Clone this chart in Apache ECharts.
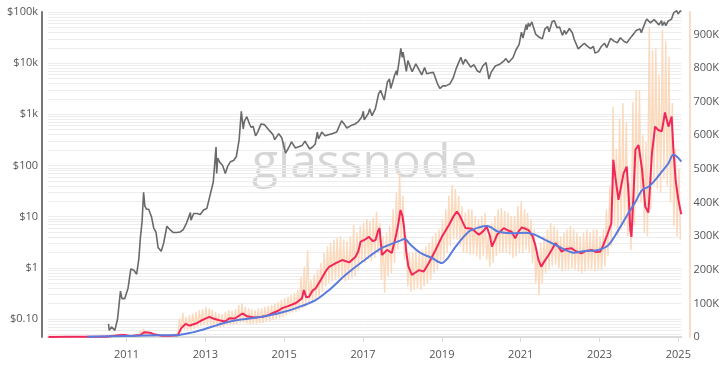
<!DOCTYPE html>
<html>
<head>
<meta charset="utf-8">
<script src="https://cdn.jsdelivr.net/npm/echarts@6/dist/echarts.min.js"></script>
<style>
html,body{margin:0;padding:0;background:#fff;}
#chart{width:722px;height:373px;}
</style>
</head>
<body>
<div id="chart"></div>
<script>
// ---------------- DATA ----------------
// x tick labels (years)
const yearTicks = [2011, 2013, 2015, 2017, 2019, 2021, 2023, 2025];
// left (log) axis tick labels by decade exponent
const leftTickLabels = {'-1': '$0.10', '0': '$1', '1': '$10', '2': '$100', '3': '$1k', '4': '$10k', '5': '$100k'};

// Price (USD), left log axis
const priceDates = ['2010-07-18','2010-07-25','2010-08-15','2010-09-15','2010-10-10','2010-11-06','2010-11-20','2010-12-15',
'2011-01-15','2011-02-10','2011-03-10','2011-04-05','2011-04-25','2011-05-10','2011-05-25','2011-06-08','2011-06-20','2011-07-05','2011-07-25','2011-08-20','2011-09-10','2011-10-01','2011-10-20','2011-11-18','2011-12-10',
'2012-01-10','2012-02-10','2012-03-10','2012-04-10','2012-05-10','2012-06-10','2012-07-10','2012-08-15','2012-08-20','2012-09-15','2012-10-15','2012-11-15','2012-12-15',
'2013-01-15','2013-02-15','2013-03-15','2013-04-10','2013-04-16','2013-04-25','2013-05-15','2013-06-10','2013-07-05','2013-07-25','2013-08-20','2013-09-20','2013-10-15','2013-11-10','2013-11-30','2013-12-18','2013-12-28',
'2014-01-20','2014-02-15','2014-02-28','2014-03-20','2014-04-11','2014-05-01','2014-06-01','2014-07-01','2014-08-18','2014-09-20','2014-10-05','2014-11-12','2014-12-10',
'2015-01-14','2015-02-10','2015-03-10','2015-04-15','2015-06-15','2015-07-12','2015-08-25','2015-09-20','2015-10-15','2015-11-04','2015-11-15','2015-12-15',
'2016-01-15','2016-02-15','2016-03-15','2016-05-01','2016-06-16','2016-07-10','2016-08-03','2016-09-15','2016-10-15','2016-11-15','2016-12-20',
'2017-01-04','2017-01-12','2017-02-20','2017-03-03','2017-03-25','2017-04-25','2017-05-25','2017-06-12','2017-07-16','2017-08-15','2017-09-03','2017-09-15','2017-10-20','2017-11-07','2017-11-12','2017-12-01','2017-12-17','2017-12-30',
'2018-01-07','2018-02-06','2018-02-20','2018-04-01','2018-05-05','2018-06-29','2018-07-25','2018-08-14','2018-09-20','2018-10-15','2018-11-25','2018-12-15',
'2019-01-10','2019-02-08','2019-03-15','2019-04-15','2019-05-15','2019-06-26','2019-07-16','2019-08-06','2019-09-25','2019-10-26','2019-11-25','2019-12-18',
'2020-01-15','2020-02-14','2020-03-12','2020-04-01','2020-05-10','2020-06-15','2020-07-28','2020-08-17','2020-09-10','2020-10-21','2020-11-20','2020-12-17',
'2021-01-08','2021-01-22','2021-02-21','2021-02-28','2021-03-13','2021-03-25','2021-04-14','2021-05-19','2021-06-22','2021-07-20','2021-08-14','2021-09-07','2021-09-21','2021-10-20','2021-11-09','2021-12-04','2021-12-27',
'2022-01-22','2022-02-10','2022-02-24','2022-03-28','2022-04-25','2022-05-12','2022-06-18','2022-07-10','2022-08-14','2022-09-10','2022-10-10','2022-11-05','2022-11-21','2022-12-20',
'2023-01-15','2023-02-16','2023-03-10','2023-04-13','2023-05-15','2023-06-15','2023-07-13','2023-08-17','2023-09-11','2023-10-23','2023-11-15','2023-12-08',
'2024-01-11','2024-01-23','2024-02-28','2024-03-14','2024-04-17','2024-05-01','2024-05-21','2024-06-07','2024-07-05','2024-07-29','2024-08-05','2024-08-25','2024-09-06','2024-09-27','2024-10-10','2024-10-29','2024-11-13','2024-11-22','2024-12-05','2024-12-17','2024-12-30',
'2025-01-13','2025-01-20','2025-01-28'];
const priceValues = [0.08,0.06,0.07,0.06,0.10,0.35,0.25,0.25,
0.40,0.95,0.90,0.75,1.5,4.0,8,30,16,14,14,10,6,5,2.5,2.1,3,
6.5,5.5,4.9,4.9,5.0,5.6,7.5,12,8.5,11.5,11.5,11,13.5,
14.5,27,47,230,70,140,115,100,70,95,118,125,150,320,1150,520,730,
900,640,560,580,380,450,650,630,480,400,320,420,345,
175,220,290,220,245,300,210,230,260,450,330,450,
380,400,415,450,750,650,540,610,640,710,890,
1150,780,1050,1280,940,1280,2500,2950,1900,4300,4900,3200,5800,7200,5800,10800,19400,13000,
16500,6900,11200,6800,9700,5900,8200,6200,6500,6600,3800,3200,
3600,3600,3900,5100,8000,13000,9500,11900,8400,9300,7100,6600,
8800,10300,4900,6600,8800,9400,11000,12300,10300,12800,18500,23000,
40500,31000,57000,45000,61000,52000,64000,37000,32000,29800,47000,52000,41000,65000,67500,49000,51000,
35000,44000,37000,47500,39000,29000,19000,21000,24500,21500,19200,21300,15700,16800,
20900,24500,20200,30400,27000,25100,31400,26500,25100,33000,37800,44000,
46500,39500,62500,73000,61300,57000,71000,70000,56000,68000,54000,64000,53900,65800,60300,72500,90000,98500,98000,106000,92000,
94500,106000,102000];

// Short moving average (red), thousands, right axis; x as decimal year
const redT = [2009.02,2009.5,2010.0,2010.5,2010.8,2010.95,2011.1,2011.35,2011.45,2011.6,2011.7,2011.9,2012.1,2012.3,2012.38,2012.43,2012.5,2012.6,2012.7,2012.78,2012.93,
2013.1,2013.2,2013.35,2013.5,2013.61,2013.75,2013.94,2014.05,2014.25,2014.44,2014.6,2014.7,2014.85,2014.95,
2015.1,2015.3,2015.45,2015.5,2015.56,2015.63,2015.72,2015.8,2015.93,2016.05,2016.14,2016.31,2016.47,2016.65,2016.81,2016.88,2016.94,
2017.05,2017.15,2017.25,2017.32,2017.38,2017.42,2017.48,2017.55,2017.61,2017.73,2017.83,2017.9,2017.95,2018.0,2018.04,2018.1,2018.15,2018.24,2018.33,2018.42,2018.54,2018.67,2018.84,
2019.0,2019.18,2019.3,2019.38,2019.45,2019.6,2019.76,2019.94,2020.05,2020.14,2020.22,2020.27,2020.35,2020.4,2020.57,2020.7,2020.77,2020.86,2020.95,
2021.03,2021.12,2021.2,2021.3,2021.37,2021.45,2021.52,2021.6,2021.71,2021.8,2021.88,2021.96,2022.04,2022.15,2022.29,2022.4,2022.54,2022.65,2022.8,2022.9,
2023.02,2023.1,2023.2,2023.3,2023.35,2023.4,2023.48,2023.55,2023.61,2023.69,2023.74,2023.78,2023.81,2023.86,2023.91,2023.99,
2024.08,2024.16,2024.24,2024.33,2024.41,2024.49,2024.58,2024.66,2024.72,2024.75,2024.83,2024.87,2024.93,2025.0,2025.06,2025.075];
const redV = [0.3,0.4,0.5,1,5,6,3,6,14,13,8,4,4,5,25,31,39,34,38,41,51,
60,55,50,46,56,55,70,62,58,60,65,71,78,86,
92,101,115,140,118,120,138,145,170,195,209,220,229,222,239,255,284,
290,298,285,289,315,324,244,252,259,250,298,340,378,360,328,250,210,185,192,199,195,220,259,
298,333,360,373,362,324,322,304,315,328,300,269,290,304,324,316,313,294,315,
326,322,318,300,274,230,209,225,244,262,279,268,254,262,264,255,249,256,259,253,
254,275,305,338,527,477,408,450,487,507,420,318,298,420,557,571,
497,388,370,547,626,616,612,668,640,626,656,566,467,408,373,365];

// Long moving average (blue), thousands, right axis
const blueT = [2010.0,2011.0,2011.8,2012.3,2012.34,2012.76,2013.18,2013.52,2013.86,2014.44,2015.0,2015.3,2015.8,2016.14,2016.56,2016.98,2017.48,2017.99,2018.05,2018.2,2018.46,2018.75,2019.0,2019.15,2019.35,2019.68,2019.94,
2020.15,2020.44,2020.78,2021.12,2021.37,2021.62,2021.88,2022.13,2022.34,2022.63,2022.97,2023.23,2023.48,2023.73,2023.9,2024.08,2024.24,2024.41,2024.58,2024.75,2024.87,2024.96,2025.075];
const blueV = [0.5,3,5,5,6,16,31,43,51,60,75,86,110,140,185,224,265,289,292,275,250,235,220,235,269,313,326,
330,313,309,310,304,289,274,259,251,256,259,274,318,368,400,437,447,467,492,517,542,537,522];

// Daily raw metric (peach), monthly high / low readings in thousands, Jan 2009 .. Jan 2025
const peachHigh = [
 3,2,2,1,1,1,1,1,1,1,1,1,
 1,1,1,1,1,2,3,4,6,8,10,9,
 6,5,6,9,18,24,20,14,10,8,7,6,
 6,6,8,12,55,72,60,65,70,75,80,82,
 90,85,80,75,70,68,75,80,78,82,95,100,
 90,85,82,80,85,85,90,92,95,100,105,110,
 115,120,125,130,140,180,209,259,170,185,200,220,
 250,270,280,290,295,300,290,285,300,333,310,330,
 340,350,345,355,373,340,300,310,330,380,430,492,
 420,300,250,250,260,255,260,270,280,300,310,320,
 350,380,420,452,440,420,390,370,380,380,360,350,
 360,370,300,340,360,380,384,375,370,360,360,390,
 403,380,369,350,320,260,280,300,320,339,330,320,
 300,310,320,330,320,310,300,310,320,310,320,320,
 300,320,380,450,685,560,650,696,640,460,700,735,
 735,600,580,923,854,860,780,914,880,834,696,560,
 500];
const peachLow = [
 0,0,0,0,0,0,0,0,0,0,0,0,
 0,0,0,0,0,0,1,1,2,2,3,3,
 2,2,2,3,6,8,8,5,4,3,3,2,
 2,2,2,3,15,22,20,22,25,28,32,35,
 35,35,30,28,28,30,35,35,35,38,40,42,
 40,38,38,40,42,42,45,48,50,52,55,60,
 65,70,72,75,80,85,90,100,105,110,120,135,
 150,160,165,170,175,170,165,170,175,180,200,220,
 220,230,225,235,250,170,131,180,190,220,260,290,
 230,150,135,140,145,140,150,160,170,190,200,220,
 230,250,270,290,290,270,250,250,245,245,240,230,
 240,230,209,220,240,250,250,250,245,235,240,250,
 250,260,250,220,160,125,160,190,200,210,215,205,
 195,200,200,205,200,195,190,195,200,200,195,200,
 200,210,240,270,330,300,320,330,300,259,330,400,
 400,309,300,380,450,440,430,470,450,400,330,298,
 290];

// ---------------- BUILD ----------------
// decimal year from a UTC date
function decYear(ms) {
  const Y = new Date(ms).getUTCFullYear();
  const a = Date.UTC(Y, 0, 1), b = Date.UTC(Y + 1, 0, 1);
  return Y + (ms - a) / (b - a);
}
const priceData = priceDates.map((d, i) => [decYear(Date.parse(d)), priceValues[i]]);
const redData = redT.map((t, i) => [t, redV[i] * 1000]);
const blueData = blueT.map((t, i) => [t, blueV[i] * 1000]);
const peachData = [];
for (let i = 0; i < peachHigh.length; i++) {
  const Y = 2009 + Math.floor(i / 12), M = i % 12;
  peachData.push([decYear(Date.UTC(Y, M, 6)), peachHigh[i] * 1000]);
  peachData.push([decYear(Date.UTC(Y, M, 20)), peachLow[i] * 1000]);
}

const LOG_MIN = 0.0445, LOG_MAX = 100000;
const minorLines = [];
for (let e = -2; e <= 4; e++) {
  for (let k = 2; k <= 9; k++) {
    const v = k * Math.pow(10, e);
    if (v > LOG_MIN && v < LOG_MAX) minorLines.push({ yAxis: v });
  }
}

const labelFont = { color: '#555', fontSize: 11, fontFamily: 'Open Sans, sans-serif' };

const chart = echarts.init(document.getElementById('chart'), null, { renderer: 'canvas' });
chart.setOption({
  animation: false,
  backgroundColor: '#fff',
  grid: { left: 48, right: 39, top: 12, bottom: 36, containLabel: false },
  graphic: [{
    type: 'text', z: 0, silent: true,
    left: 252, top: 140,
    style: { text: 'glassnode', fill: '#d6d6d6', fontSize: 48, fontFamily: 'Open Sans, sans-serif', fontWeight: 400 }
  }],
  xAxis: {
    type: 'value',
    min: 2009.008,
    max: 2025.077,
    axisLine: { show: true, onZero: false, lineStyle: { color: '#dcdcdc', width: 2 } },
    axisTick: { show: true, customValues: yearTicks, length: 5, lineStyle: { color: '#dcdcdc', width: 1 } },
    axisLabel: Object.assign({ customValues: yearTicks, margin: 12, formatter: v => String(Math.round(v)) }, labelFont),
    splitLine: { show: false }
  },
  yAxis: [{
    type: 'log', logBase: 10, position: 'left', offset: 6,
    min: LOG_MIN, max: LOG_MAX, splitNumber: 6,
    axisLine: { show: true, lineStyle: { color: '#777', width: 2 } },
    axisTick: { show: false },
    axisLabel: Object.assign({
      margin: 4,
      formatter: v => {
        const e = Math.log10(v), r = Math.round(e);
        if (Math.abs(e - r) > 0.01) return '';
        return leftTickLabels[String(r)] || '';
      }
    }, labelFont),
    splitLine: { show: true, lineStyle: { color: '#ededed', width: 1 } }
  }, {
    type: 'value', position: 'right', offset: 8,
    min: 0, max: 967000, interval: 100000,
    axisLine: { show: true, lineStyle: { color: '#fbdcc4', width: 2 } },
    axisTick: { show: false },
    axisLabel: Object.assign({
      margin: 4,
      formatter: v => (v % 100000 !== 0 ? '' : (v === 0 ? '0' : (v / 1000) + 'K'))
    }, labelFont),
    splitLine: { show: false }
  }],
  series: [{
    name: 'raw', type: 'line', yAxisIndex: 1, data: peachData,
    showSymbol: false, symbol: 'none', lineStyle: { color: '#fbd9bd', width: 1.4 }, z: 2
  }, {
    name: 'ma-short', type: 'line', yAxisIndex: 1, data: redData,
    showSymbol: false, symbol: 'none', lineStyle: { color: '#f0285a', width: 2 }, z: 3
  }, {
    name: 'ma-long', type: 'line', yAxisIndex: 1, data: blueData, smooth: 0.3,
    showSymbol: false, symbol: 'none', lineStyle: { color: '#5a7ade', width: 2 }, z: 4
  }, {
    name: 'price', type: 'line', yAxisIndex: 0, data: priceData, clip: false,
    showSymbol: false, symbol: 'none', lineStyle: { color: '#6a6a6a', width: 1.6 }, z: 5,
    markLine: {
      silent: true, symbol: 'none', label: { show: false }, z: 1,
      lineStyle: { color: '#ededed', width: 1, type: 'solid' },
      data: minorLines
    }
  }]
});
</script>
</body>
</html>
